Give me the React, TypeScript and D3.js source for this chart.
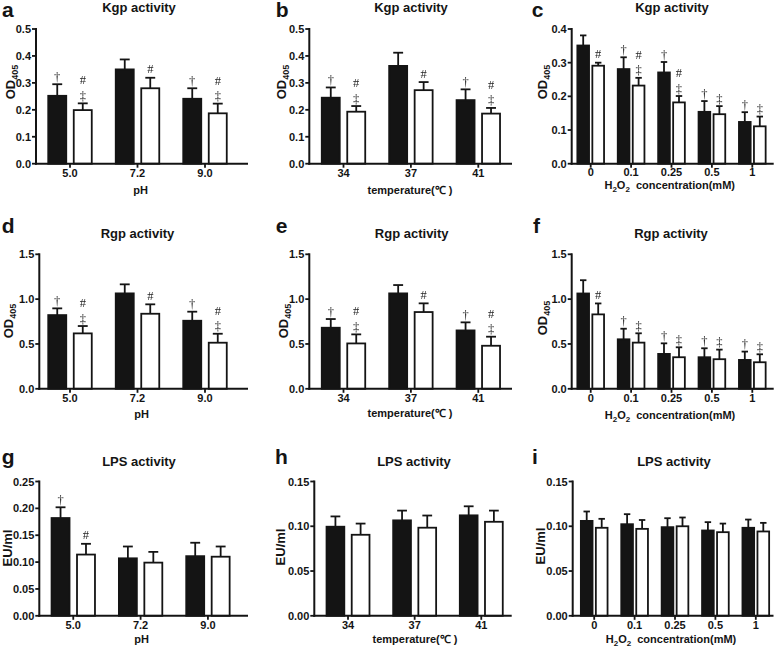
import React from "react";
import * as d3 from "d3";

// ---------- data ----------
const phCats = ["5.0", "7.2", "9.0"];
const tempCats = ["34", "37", "41"];
const h2o2Cats = ["0", "0.1", "0.25", "0.5", "1"];

const kgpPhBlack = [0.252, 0.35, 0.241];
const kgpPhBlackErr = [0.043, 0.037, 0.039];
const kgpPhWhite = [0.199, 0.28, 0.187];
const kgpPhWhiteErr = [0.025, 0.039, 0.036];

const kgpTempBlack = [0.245, 0.363, 0.236];
const kgpTempBlackErr = [0.038, 0.049, 0.04];
const kgpTempWhite = [0.193, 0.273, 0.186];
const kgpTempWhiteErr = [0.021, 0.03, 0.021];

const kgpH2o2Black = [0.351, 0.281, 0.271, 0.154, 0.124];
const kgpH2o2BlackErr = [0.03, 0.035, 0.031, 0.032, 0.029];
const kgpH2o2White = [0.291, 0.232, 0.182, 0.147, 0.111];
const kgpH2o2WhiteErr = [0.009, 0.023, 0.019, 0.024, 0.029];

const rgpPhBlack = [0.822, 1.064, 0.759];
const rgpPhBlackErr = [0.075, 0.101, 0.101];
const rgpPhWhite = [0.618, 0.837, 0.514];
const rgpPhWhiteErr = [0.082, 0.105, 0.1];

const rgpTempBlack = [0.681, 1.064, 0.651];
const rgpTempBlackErr = [0.097, 0.093, 0.09];
const rgpTempWhite = [0.506, 0.856, 0.48];
const rgpTempWhiteErr = [0.101, 0.097, 0.101];

const rgpH2o2Black = [1.063, 0.552, 0.389, 0.352, 0.322];
const rgpH2o2BlackErr = [0.148, 0.118, 0.118, 0.1, 0.093];
const rgpH2o2White = [0.83, 0.515, 0.352, 0.33, 0.296];
const rgpH2o2WhiteErr = [0.122, 0.104, 0.111, 0.107, 0.089];

const lpsPhBlack = [0.182, 0.107, 0.111];
const lpsPhBlackErr = [0.02, 0.022, 0.025];
const lpsPhWhite = [0.114, 0.099, 0.11];
const lpsPhWhiteErr = [0.02, 0.02, 0.019];

const lpsTempBlack = [0.0995, 0.1066, 0.1122];
const lpsTempBlackErr = [0.0115, 0.0109, 0.0101];
const lpsTempWhite = [0.0905, 0.0984, 0.105];
const lpsTempWhiteErr = [0.0125, 0.0136, 0.0125];

const lpsH2o2Black = [0.106, 0.1023, 0.099, 0.0953, 0.0983];
const lpsH2o2BlackErr = [0.0105, 0.0112, 0.01, 0.0093, 0.0092];
const lpsH2o2White = [0.0983, 0.0971, 0.1, 0.0934, 0.0942];
const lpsH2o2WhiteErr = [0.01, 0.0099, 0.0098, 0.0096, 0.0096];

// significance marks
const marks3Black = ["†", "", "†"];
const marks3White = ["#‡", "#", "#‡"];
const marksKgpH2o2Black = ["", "†", "†", "†", "†"];
const marksKgpH2o2White = ["#", "#‡", "#‡", "‡", "‡"];
const marksRgpH2o2Black = ["", "†", "†", "†", "†"];
const marksRgpH2o2White = ["#", "‡", "‡", "‡", "‡"];
const marksLpsPhBlack = ["†", "", ""];
const marksLpsPhWhite = ["#", "", ""];

const ticksKgp = [0, 0.1, 0.2, 0.3, 0.4, 0.5];
const ticksKgpH2o2 = [0, 0.1, 0.2, 0.3, 0.4];
const ticksRgp = [0, 0.5, 1.0, 1.5];
const ticksLpsPh = [0, 0.05, 0.1, 0.15, 0.2, 0.25];
const ticksLps = [0, 0.05, 0.1, 0.15];

const F = "'Liberation Sans', Arial, Helvetica, sans-serif";
const SERIF = "'Liberation Serif', 'Times New Roman', serif";
const INK = "#141414";
const MARK = "#262626";

// ---------- layout ----------
const rows = [
  { yTop: 29, y0: 163.7, tickBase: 177, titleBase: 11.7, letterBase: 16.5 },
  { yTop: 254.3, y0: 388.8, tickBase: 401.7, titleBase: 237.7, letterBase: 233 },
  { yTop: 481.5, y0: 615.8, tickBase: 629, titleBase: 465.5, letterBase: 464 },
];

type PanelCfg = {
  letter: string;
  letterX: number;
  title: string;
  titleX: number;
  row: number;
  cats: string[];
  black: number[];
  blackErr: number[];
  white: number[];
  whiteErr: number[];
  mBlack?: string[];
  mWhite?: string[];
  yMax: number;
  ticks: number[];
  fmt: string;
  axisX: number;
  axisEnd: number;
  band: [number, number];
  narrow: boolean;
  ylab: "OD" | "EU";
  ylabX: number;
  ylabY: number;
  xlab: "pH" | "temp" | "h2o2";
  xlabX: number;
  xlabBase: number;
  tickShift?: number;
};

const panels: PanelCfg[] = [
  { letter: "a", letterX: 2, title: "Kgp activity", titleX: 139, row: 0, cats: phCats,
    black: kgpPhBlack, blackErr: kgpPhBlackErr, white: kgpPhWhite, whiteErr: kgpPhWhiteErr,
    mBlack: marks3Black, mWhite: marks3White, yMax: 0.5, ticks: ticksKgp, fmt: ".1f",
    axisX: 36, axisEnd: 248, band: [36.25, 238.75], narrow: false, ylab: "OD", ylabX: 10, ylabY: 82,
    xlab: "pH", xlabX: 140.7, xlabBase: 194.3 },
  { letter: "b", letterX: 275.7, title: "Kgp activity", titleX: 411, row: 0, cats: tempCats,
    black: kgpTempBlack, blackErr: kgpTempBlackErr, white: kgpTempWhite, whiteErr: kgpTempWhiteErr,
    mBlack: marks3Black, mWhite: marks3White, yMax: 0.5, ticks: ticksKgp, fmt: ".1f",
    axisX: 309.3, axisEnd: 512, band: [309.8, 512], narrow: false, ylab: "OD", ylabX: 281, ylabY: 82,
    xlab: "temp", xlabX: 410, xlabBase: 194 },
  { letter: "c", letterX: 531.7, title: "Kgp activity", titleX: 672, row: 0, cats: h2o2Cats,
    black: kgpH2o2Black, blackErr: kgpH2o2BlackErr, white: kgpH2o2White, whiteErr: kgpH2o2WhiteErr,
    mBlack: marksKgpH2o2Black, mWhite: marksKgpH2o2White, yMax: 0.4, ticks: ticksKgpH2o2, fmt: ".1f",
    axisX: 571.7, axisEnd: 773.7, band: [570.5, 772.5], narrow: true, ylab: "OD", ylabX: 542, ylabY: 82,
    xlab: "h2o2", xlabX: 669.7, xlabBase: 189, tickShift: -1 },
  { letter: "d", letterX: 1.7, title: "Rgp activity", titleX: 137.5, row: 1, cats: phCats,
    black: rgpPhBlack, blackErr: rgpPhBlackErr, white: rgpPhWhite, whiteErr: rgpPhWhiteErr,
    mBlack: marks3Black, mWhite: marks3White, yMax: 1.5, ticks: ticksRgp, fmt: ".1f",
    axisX: 39.3, axisEnd: 248, band: [36.25, 238.75], narrow: false, ylab: "OD", ylabX: 8, ylabY: 321,
    xlab: "pH", xlabX: 141.7, xlabBase: 418.3 },
  { letter: "e", letterX: 275.7, title: "Rgp activity", titleX: 411.7, row: 1, cats: tempCats,
    black: rgpTempBlack, blackErr: rgpTempBlackErr, white: rgpTempWhite, whiteErr: rgpTempWhiteErr,
    mBlack: marks3Black, mWhite: marks3White, yMax: 1.5, ticks: ticksRgp, fmt: ".1f",
    axisX: 309.3, axisEnd: 512, band: [309.8, 512], narrow: false, ylab: "OD", ylabX: 283, ylabY: 321,
    xlab: "temp", xlabX: 410, xlabBase: 416.7 },
  { letter: "f", letterX: 533, title: "Rgp activity", titleX: 671, row: 1, cats: h2o2Cats,
    black: rgpH2o2Black, blackErr: rgpH2o2BlackErr, white: rgpH2o2White, whiteErr: rgpH2o2WhiteErr,
    mBlack: marksRgpH2o2Black, mWhite: marksRgpH2o2White, yMax: 1.5, ticks: ticksRgp, fmt: ".1f",
    axisX: 571.7, axisEnd: 773.7, band: [570.5, 772.5], narrow: true, ylab: "OD", ylabX: 542, ylabY: 318,
    xlab: "h2o2", xlabX: 670, xlabBase: 419 },
  { letter: "g", letterX: 1.7, title: "LPS activity", titleX: 139, row: 2, cats: phCats,
    black: lpsPhBlack, blackErr: lpsPhBlackErr, white: lpsPhWhite, whiteErr: lpsPhWhiteErr,
    mBlack: marksLpsPhBlack, mWhite: marksLpsPhWhite, yMax: 0.25, ticks: ticksLpsPh, fmt: ".2f",
    axisX: 39.3, axisEnd: 248, band: [39.6, 241.6], narrow: false, ylab: "EU", ylabX: 7, ylabY: 548,
    xlab: "pH", xlabX: 141.7, xlabBase: 643.3 },
  { letter: "h", letterX: 275, title: "LPS activity", titleX: 414, row: 2, cats: tempCats,
    black: lpsTempBlack, blackErr: lpsTempBlackErr, white: lpsTempWhite, whiteErr: lpsTempWhiteErr,
    yMax: 0.15, ticks: ticksLps, fmt: ".2f",
    axisX: 314.3, axisEnd: 511.7, band: [314.7, 514.6], narrow: false, ylab: "EU", ylabX: 280, ylabY: 547,
    xlab: "temp", xlabX: 415, xlabBase: 643.3 },
  { letter: "i", letterX: 532, title: "LPS activity", titleX: 674, row: 2, cats: h2o2Cats,
    black: lpsH2o2Black, blackErr: lpsH2o2BlackErr, white: lpsH2o2White, whiteErr: lpsH2o2WhiteErr,
    yMax: 0.15, ticks: ticksLps, fmt: ".2f",
    axisX: 572.7, axisEnd: 773.5, band: [574, 776], narrow: true, ylab: "EU", ylabX: 540, ylabY: 546,
    xlab: "h2o2", xlabX: 671, xlabBase: 643.3 },
];

function XLabel({ kind, x, y }: { kind: string; x: number; y: number }) {
  const common = { x, y, textAnchor: "middle" as const, fontFamily: F, fontWeight: 700, fontSize: 11, fill: INK };
  if (kind === "pH") return <text {...common}>pH</text>;
  if (kind === "temp") return <text {...common} xmlSpace="preserve">temperature(℃ )</text>;
  return (
    <text {...common} xmlSpace="preserve">
      H<tspan fontSize={8} dy={3}>2</tspan>
      <tspan dy={-3}>O</tspan>
      <tspan fontSize={8} dy={3}>2</tspan>
      <tspan dy={-3}>{"\u00a0\u00a0concentration(mM)"}</tspan>
    </text>
  );
}

function YLabel({ kind, x, y }: { kind: string; x: number; y: number }) {
  return (
    <text
      transform={`translate(${x + 5},${y}) rotate(-90)`}
      textAnchor="middle"
      fontFamily={F}
      fontWeight={700}
      fontSize={13}
      fill={INK}
    >
      {kind === "OD" ? (
        <>
          OD<tspan fontSize={9} dy={3}>405</tspan>
        </>
      ) : (
        "EU/ml"
      )}
    </text>
  );
}

function Mark({ x, y, s }: { x: number; y: number; s: string }) {
  return (
    <text x={x} y={y} textAnchor="middle" fontFamily={SERIF} fontSize={12.5} fill={MARK}>
      {s}
    </text>
  );
}

function Panel({ p }: { p: PanelCfg }) {
  const r = rows[p.row];
  const y = d3.scaleLinear().domain([0, p.yMax]).range([r.y0, r.yTop]);
  const x0 = d3.scaleBand<string>().domain(p.cats).range(p.band).padding(0);
  const x1 = d3
    .scaleBand<string>()
    .domain(["black", "white"])
    .range([0, x0.bandwidth()])
    .paddingInner(p.narrow ? 0.22 : 0.294)
    .paddingOuter(p.narrow ? 0.457 : 0.47);
  const bw = x1.bandwidth();
  const capW = bw * 0.55;
  const fmt = d3.format(p.fmt);
  const series = [
    { key: "black", vals: p.black, errs: p.blackErr, fill: INK, marks: p.mBlack },
    { key: "white", vals: p.white, errs: p.whiteErr, fill: "#ffffff", marks: p.mWhite },
  ];
  return (
    <g>
      <text x={p.letterX} y={r.letterBase} fontFamily={F} fontWeight={700} fontSize={21} fill={INK}>
        {p.letter}
      </text>
      <text x={p.titleX} y={r.titleBase} textAnchor="middle" fontFamily={F} fontWeight={700} fontSize={13} fill={INK}>
        {p.title}
      </text>
      {/* bars */}
      {series.map((s) =>
        p.cats.map((c, i) => {
          const x = (x0(c) as number) + (x1(s.key) as number);
          const v = s.vals[i];
          const top = y(v);
          const et = y(v + s.errs[i]);
          const cx = x + bw / 2;
          return (
            <g key={s.key + c}>
              <line x1={cx} x2={cx} y1={top} y2={et} stroke={INK} strokeWidth={1.8} />
              <line x1={cx - capW / 2} x2={cx + capW / 2} y1={et} y2={et} stroke={INK} strokeWidth={1.8} />
              <rect x={x} y={top} width={bw} height={r.y0 - top} fill={s.fill} stroke={INK} strokeWidth={1.8} />
            </g>
          );
        })
      )}
      {/* significance marks, rendered through a desaturating filter */}
      <g filter="url(#gray)">
        {series.map((s) =>
          p.cats.map((c, i) => {
            const m = s.marks ? s.marks[i] : "";
            if (!m) return null;
            const x = (x0(c) as number) + (x1(s.key) as number);
            const cx = x + bw / 2;
            const et = y(s.vals[i] + s.errs[i]);
            return (
              <g key={"m" + s.key + c}>
                {m.includes("†") && <Mark x={cx} y={et - 3.5} s="†" />}
                {m.includes("‡") && <Mark x={cx} y={et - 3.5} s="‡" />}
                {m.includes("#") && <Mark x={cx} y={m.includes("‡") ? et - 19 : et - 4.5} s="#" />}
              </g>
            );
          })
        )}
      </g>
      {/* axes */}
      <line x1={p.axisX} x2={p.axisX} y1={r.yTop - 1} y2={r.y0 + 1} stroke={INK} strokeWidth={2} />
      <line x1={p.axisX - 1} x2={p.axisEnd} y1={r.y0} y2={r.y0} stroke={INK} strokeWidth={2} />
      {p.ticks.map((t) => (
        <g key={t}>
          <line x1={p.axisX - 4} x2={p.axisX} y1={y(t)} y2={y(t)} stroke={INK} strokeWidth={1.8} />
          <text x={p.axisX - 5} y={y(t) + 4} textAnchor="end" fontFamily={F} fontWeight={700} fontSize={11} fill={INK}>
            {fmt(t)}
          </text>
        </g>
      ))}
      {p.cats.map((c) => {
        const cx = (x0(c) as number) + x0.bandwidth() / 2;
        return (
          <g key={c}>
            <line x1={cx} x2={cx} y1={r.y0} y2={r.y0 + 4} stroke={INK} strokeWidth={1.8} />
            <text x={cx} y={r.tickBase + (p.tickShift || 0)} textAnchor="middle" fontFamily={F} fontWeight={700} fontSize={11} fill={INK}>
              {c}
            </text>
          </g>
        );
      })}
      <XLabel kind={p.xlab} x={p.xlabX} y={p.xlabBase} />
      <YLabel kind={p.ylab} x={p.ylabX} y={p.ylabY} />
    </g>
  );
}

export default function App() {
  return (
    <svg
      width={778}
      height={650}
      viewBox="0 0 778 650"
      style={{ position: "absolute", left: 0, top: 0, background: "#fff" }}
    >
      <defs>
        <filter id="gray" x="-20%" y="-20%" width="140%" height="140%">
          <feColorMatrix type="saturate" values="0" />
        </filter>
      </defs>
      <rect width={778} height={650} fill="#fff" />
      {panels.map((p) => (
        <Panel key={p.letter} p={p} />
      ))}
    </svg>
  );
}
